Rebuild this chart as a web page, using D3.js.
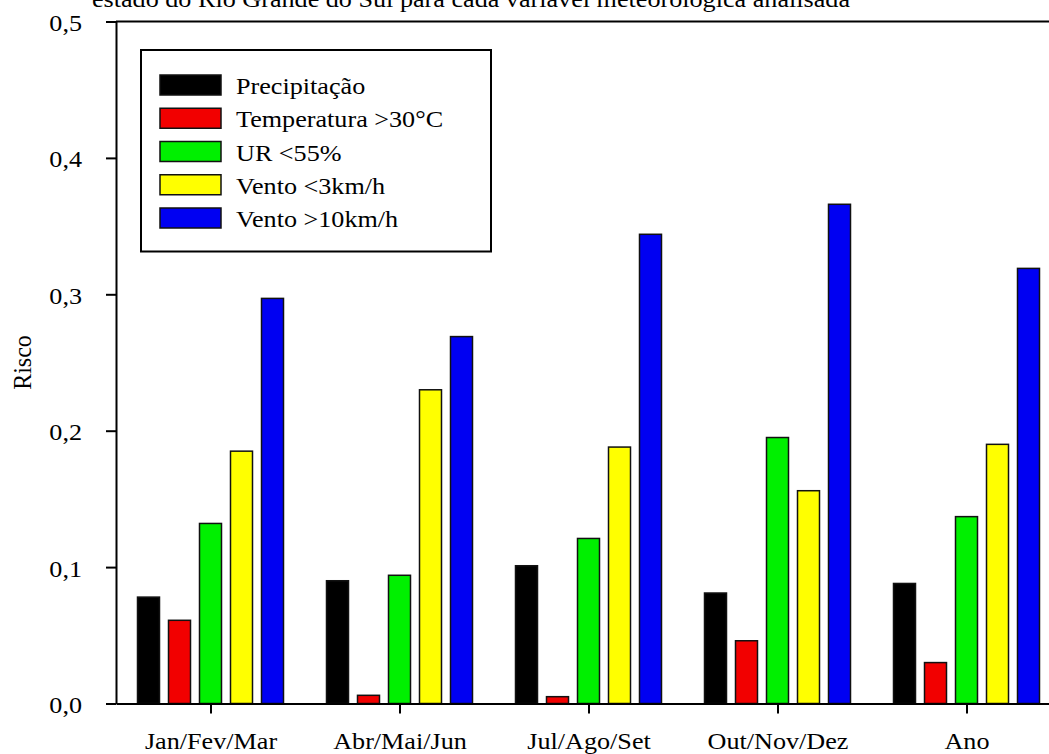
<!DOCTYPE html>
<html>
<head>
<meta charset="utf-8">
<script src="https://cdn.jsdelivr.net/npm/d3@7"></script>
<style>
  html, body { margin: 0; padding: 0; background: #fff; overflow: hidden; }
  svg { display: block; }
  text { font-family: "Liberation Serif", "Times New Roman", serif; fill: #000; }
</style>
</head>
<body>
<script>
const categories = ["Jan/Fev/Mar", "Abr/Mai/Jun", "Jul/Ago/Set", "Out/Nov/Dez", "Ano"];
const seriesNames = ["Precipitação", "Temperatura >30°C", "UR <55%", "Vento <3km/h", "Vento >10km/h"];
const seriesColors = ["#000000", "#f20000", "#00f000", "#ffff00", "#0000f2"];
const precipitacao = [0.078, 0.090, 0.101, 0.081, 0.088];
const temperatura = [0.061, 0.006, 0.005, 0.046, 0.030];
const umidade = [0.132, 0.094, 0.121, 0.195, 0.137];
const ventoBaixo = [0.185, 0.230, 0.188, 0.156, 0.190];
const ventoAlto = [0.297, 0.269, 0.344, 0.366, 0.319];
const yTicks = [0, 0.1, 0.2, 0.3, 0.4, 0.5];
const titleText = "estado do Rio Grande do Sul para cada variável meteorológica analisada";
const yLabel = "Risco";

const seriesValues = [precipitacao, temperatura, umidade, ventoBaixo, ventoAlto];

const W = 1049, H = 754;
const SX = 1.09;
const FS = 24;
const svg = d3.select("body").append("svg").attr("width", W).attr("height", H);

const x = d3.scalePoint().domain(categories).range([116, 1061]).padding(0.5);
const xi = d3.scaleBand().domain(seriesNames).range([-73, 73]).paddingInner(9 / 31).paddingOuter(0);
const y = d3.scaleLinear().domain([0, 0.5]).range([703.5, 21.5]);

const fmt = d => d3.format(".1f")(d).replace(".", ",");

// title (cut at top, as in the reference)
svg.append("text")
  .attr("text-anchor", "end")
  .attr("font-size", FS)
  .attr("transform", `translate(850,7) scale(${SX},1)`)
  .text(titleText);

// bars
const groups = svg.append("g").selectAll("g")
  .data(seriesNames.map((name, i) => ({ name, color: seriesColors[i], values: seriesValues[i] })))
  .join("g");
groups.selectAll("rect")
  .data(s => s.values.map((v, j) => ({ v, cat: categories[j], name: s.name, color: s.color })))
  .join("rect")
  .attr("x", d => x(d.cat) + xi(d.name))
  .attr("width", xi.bandwidth())
  .attr("y", d => y(d.v))
  .attr("height", d => y(0) - y(d.v))
  .attr("fill", d => d.color)
  .attr("stroke", "#111")
  .attr("stroke-width", 1.5);

// left axis
const gy = svg.append("g").attr("transform", "translate(116,0)")
  .call(d3.axisLeft(y).tickValues(yTicks).tickFormat(fmt).tickSize(10).tickSizeOuter(0));
gy.select(".domain").attr("stroke", "#000").attr("stroke-width", 2);
gy.selectAll(".tick line").attr("stroke", "#000").attr("stroke-width", 2);
gy.selectAll(".tick text")
  .attr("x", null).attr("dy", null)
  .attr("font-size", FS)
  .attr("font-family", "Liberation Serif, Times New Roman, serif")
  .attr("text-anchor", "end")
  .attr("transform", `translate(-34,9) scale(${SX},1)`);

// bottom axis
const gx = svg.append("g").attr("transform", `translate(0,${y(0)})`)
  .call(d3.axisBottom(x).tickSize(10).tickSizeOuter(0));
gx.select(".domain").attr("stroke", "#000").attr("stroke-width", 2);
gx.selectAll(".tick line").attr("stroke", "#000").attr("stroke-width", 2);
gx.selectAll(".tick text")
  .attr("y", null).attr("dy", null)
  .attr("font-size", FS)
  .attr("font-family", "Liberation Serif, Times New Roman, serif")
  .attr("text-anchor", "middle")
  .attr("transform", `translate(0,45) scale(${SX},1)`);

// top frame line
svg.append("line")
  .attr("x1", 116).attr("x2", 1061)
  .attr("y1", y(0.5)).attr("y2", y(0.5))
  .attr("stroke", "#000").attr("stroke-width", 2);
// right frame (outside the view)
svg.append("line")
  .attr("x1", 1061).attr("x2", 1061)
  .attr("y1", y(0.5)).attr("y2", y(0))
  .attr("stroke", "#000").attr("stroke-width", 2);

// y label
svg.append("text")
  .attr("text-anchor", "middle")
  .attr("font-size", FS)
  .attr("transform", `translate(31,${(y(0) + y(0.5)) / 2}) rotate(-90) scale(1,${SX})`)
  .text(yLabel);

// legend
const lg = svg.append("g");
lg.append("rect")
  .attr("x", 141).attr("y", 50).attr("width", 350).attr("height", 201.5)
  .attr("fill", "#fff").attr("stroke", "#000").attr("stroke-width", 2);
const rowY = i => 85 + i * 33.25;
const items = lg.selectAll("g.item")
  .data(seriesNames.map((name, i) => ({ name, color: seriesColors[i] })))
  .join("g").attr("class", "item");
items.append("rect")
  .attr("x", 160).attr("y", (d, i) => rowY(i) - 10)
  .attr("width", 61).attr("height", 20)
  .attr("fill", d => d.color)
  .attr("stroke", "#111").attr("stroke-width", 1.5);
items.append("text")
  .attr("font-size", FS)
  .attr("transform", (d, i) => `translate(236,${rowY(i) + 9}) scale(${SX},1)`)
  .text(d => d.name);
</script>
</body>
</html>
